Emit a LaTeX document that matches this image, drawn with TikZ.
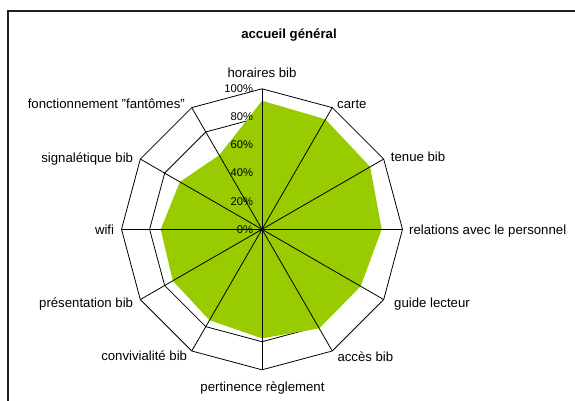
\documentclass[tikz,border=0pt]{standalone}
\usepackage{fontspec}
\setmainfont{Liberation Sans}
\usetikzlibrary{calc}
\definecolor{radargreen}{HTML}{99CC00}
\begin{document}
\begin{tikzpicture}[x=1pt,y=1pt,
  gridline/.style={draw=black,line width=0.8pt,line join=miter},
  spoke/.style={draw=black,line width=0.8pt},
  cat/.style={font=\fontsize{13.2}{15}\selectfont,inner sep=0pt},
  tick/.style={font=\fontsize{11.2}{13}\selectfont,inner sep=0pt,anchor=east},
  titlefont/.style={font=\bfseries\fontsize{13.2}{15}\selectfont,inner sep=0pt},
  frameline/.style={draw=black!88,line width=2pt}]
\useasboundingbox (0,0) rectangle (575,-400);
\fill[white] (0,0) rectangle (575,-400);
% chart frame (only left and top edges are inside the image)
\draw[frameline] (7.5,-405) -- (7.5,-10.5) -- (580,-10.5);
\node[titlefont,anchor=base] (title) at (289,-38.5) {accueil général};
\coordinate (O) at (262,-229.3);
\def\R{140.5}
% vertex coordinates
\foreach \i in {0,...,11}{
  \coordinate (p\i) at ($(O)+({90-30*\i}:{\R})$);
  \coordinate (g\i) at ($(O)+({90-30*\i}:{0.8*\R})$);
}
% grid polygons (100 % and 80 %)
\draw[gridline] (p0) -- (p1) -- (p2) -- (p3) -- (p4) -- (p5) -- (p6) -- (p7) -- (p8) -- (p9) -- (p10) -- (p11) -- cycle;
\draw[gridline] (g0) -- (g1) -- (g2) -- (g3) -- (g4) -- (g5) -- (g6) -- (g7) -- (g8) -- (g9) -- (g10) -- (g11) -- cycle;
% data
\foreach \v [count=\j from 0] in {0.915,0.904,0.889,0.852,0.811,0.814,0.776,0.747,0.733,0.721,0.675,0.609}{
  \coordinate (d\j) at ($(O)+({90-30*\j}:{\v*\R})$);
}
\fill[radargreen] (d0) -- (d1) -- (d2) -- (d3) -- (d4) -- (d5) -- (d6) -- (d7) -- (d8) -- (d9) -- (d10) -- (d11) -- cycle;
% spokes
\foreach \i in {0,...,11}{
  \draw[spoke] (O) -- (p\i);
}
% value axis labels
\foreach \v/\t in {0/0\%,0.2/20\%,0.4/40\%,0.6/60\%,0.8/80\%,1/100\%}{
  \node[tick] (t\v) at ($(O)+(-8.7,{\v*\R})$) {\t};
}
% category labels
\node[cat,anchor=base] (l0) at (262,-77.6) {horaires bib};
\node[cat,anchor=base west] (l1) at (337,-108.3) {carte};
\node[cat,anchor=base west] (l2) at (390.7,-161.6) {tenue bib};
\node[cat,anchor=base west] (l3) at (409,-234.3) {relations avec le personnel};
\node[cat,anchor=base west] (l4) at (394,-307.6) {guide lecteur};
\node[cat,anchor=base west] (l5) at (337.3,-361) {accès bib};
\node[cat,anchor=base] (l6) at (262.5,-391) {pertinence règlement};
\node[cat,anchor=base east] (l7) at (187.3,-360.3) {convivialité bib};
\node[cat,anchor=base east] (l8) at (133.3,-307.3) {présentation bib};
\node[cat,anchor=base east] (l9) at (114.3,-234.3) {wifi};
\node[cat,anchor=base east] (l10) at (133.3,-162.6) {signalétique bib};
\node[cat,anchor=base east] (l11) at (185,-108.3) {fonctionnement \char34 fantômes\char34};
\end{tikzpicture}
\end{document}
